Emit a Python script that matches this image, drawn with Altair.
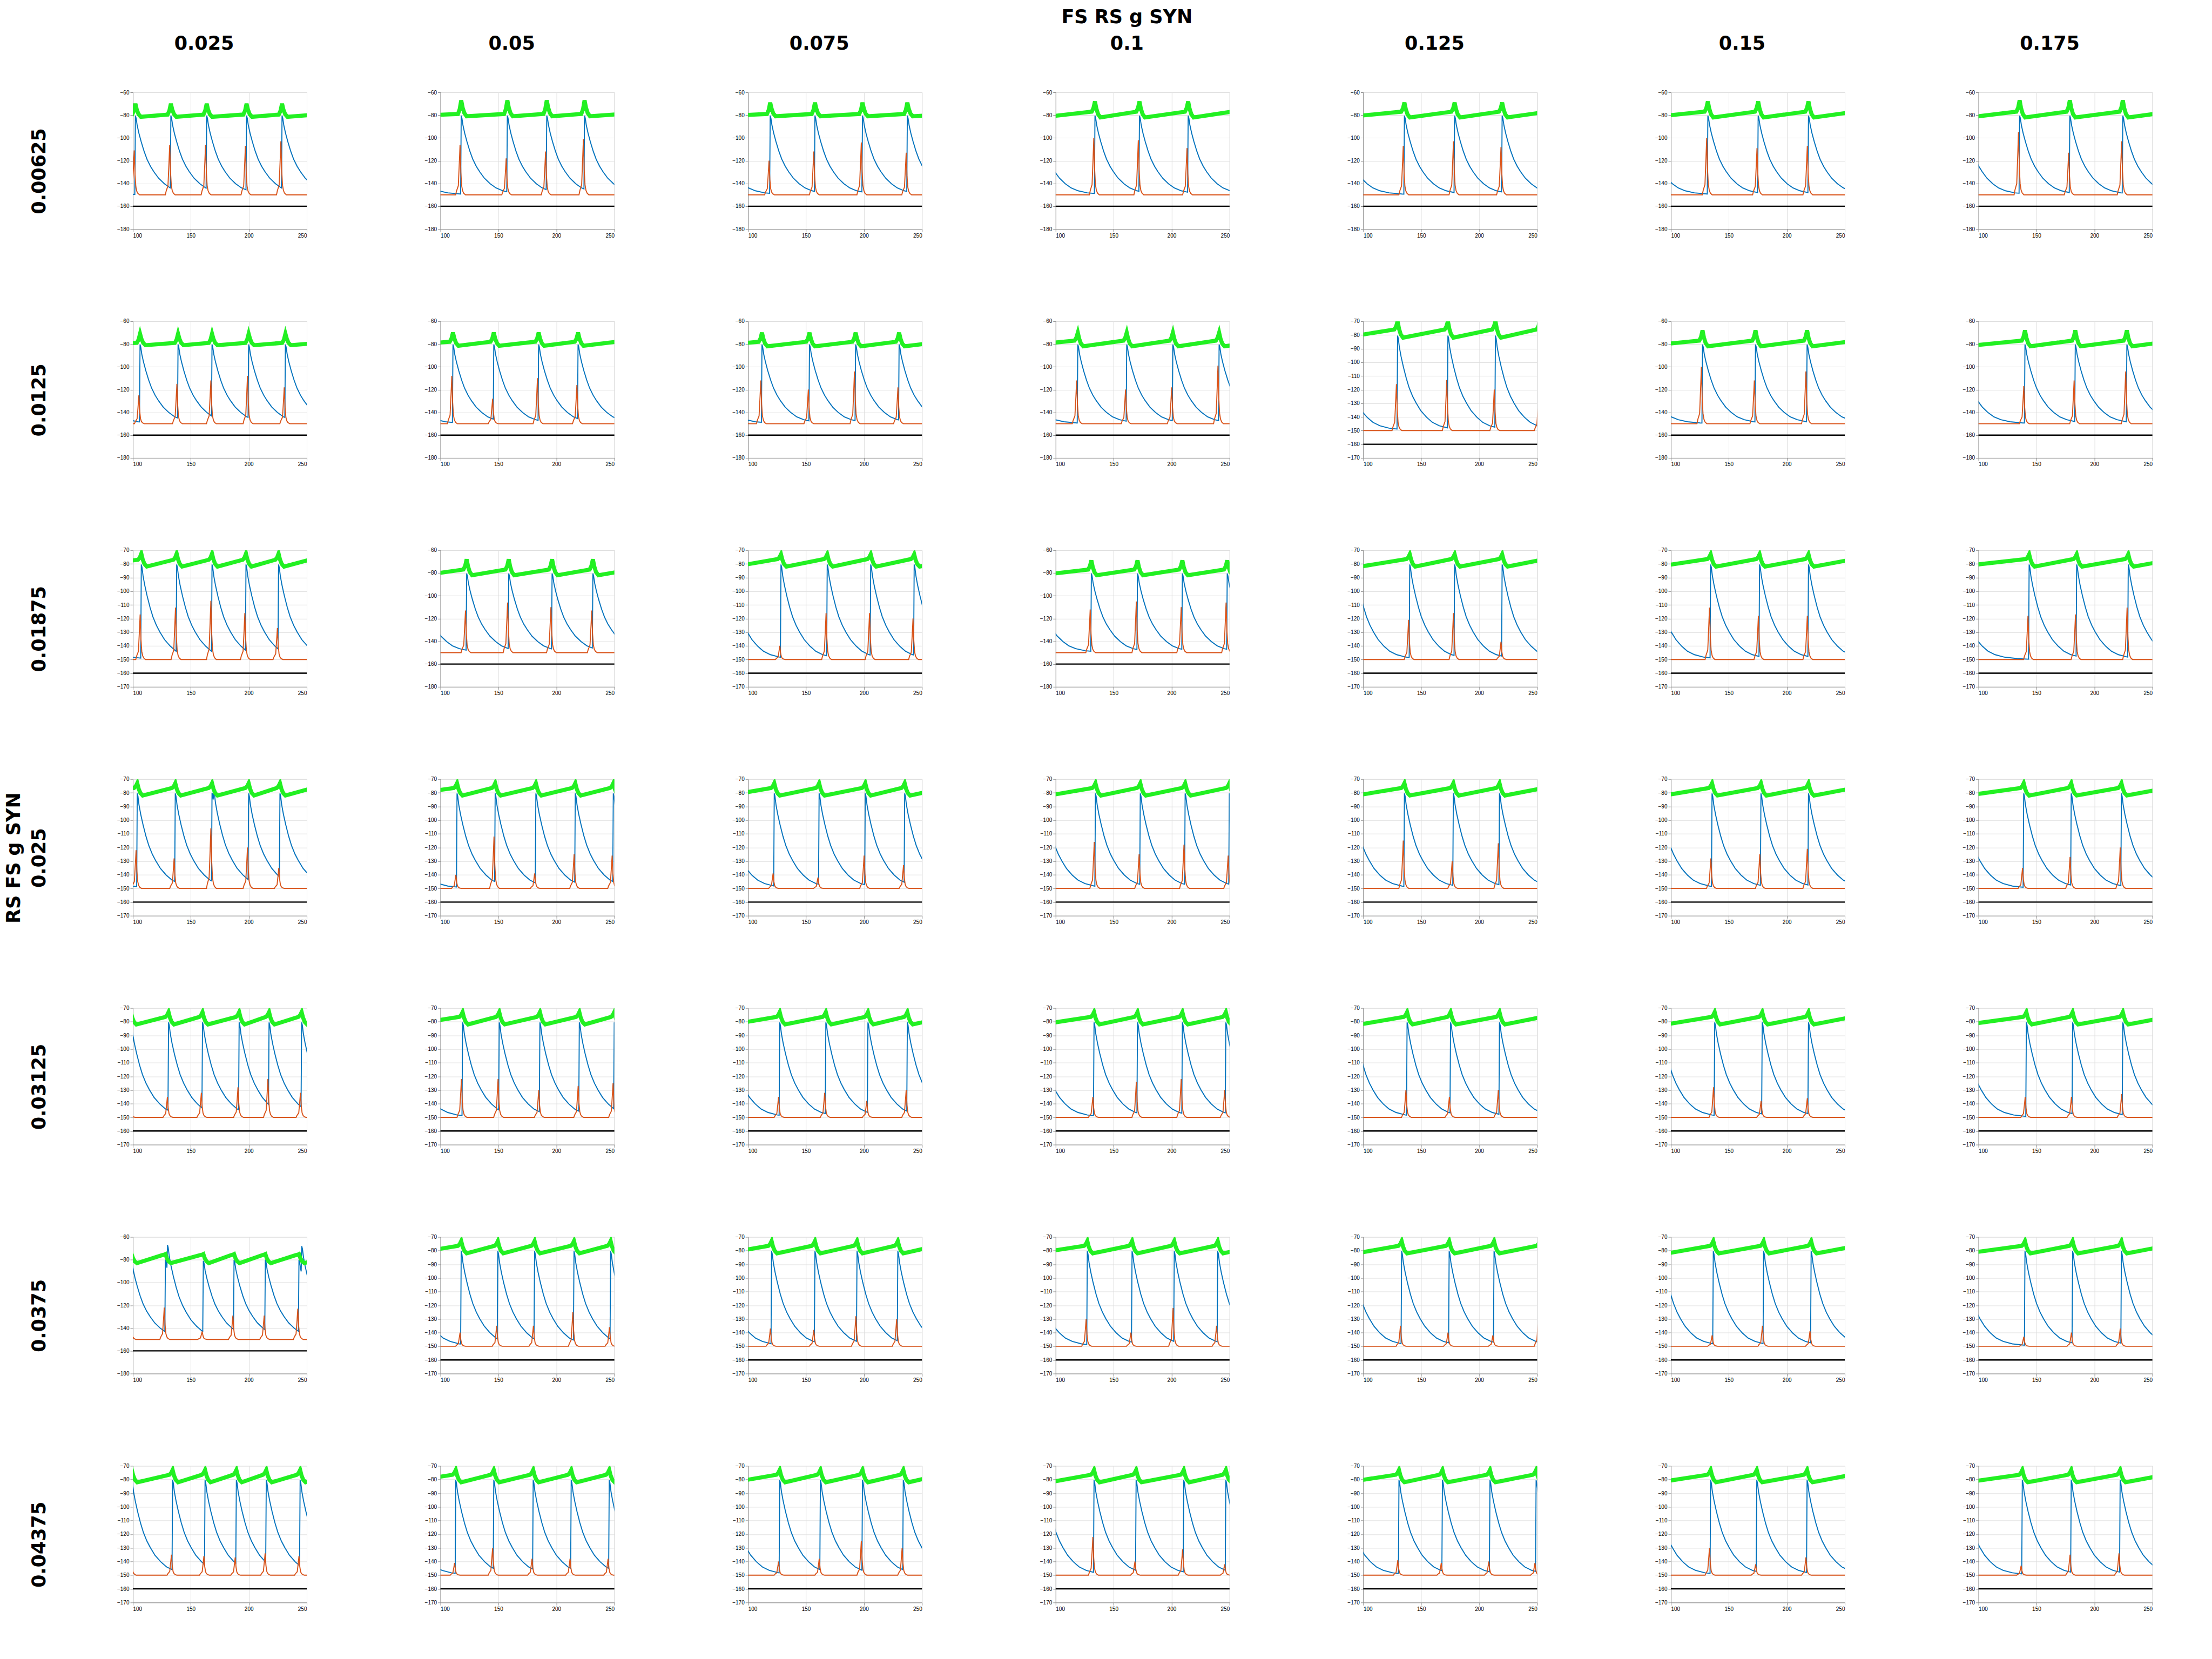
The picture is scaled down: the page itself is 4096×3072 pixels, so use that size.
import numpy as np
import pandas as pd
import altair as alt

COL_LABELS = ['0.025', '0.05', '0.075', '0.1', '0.125', '0.15', '0.175']
ROW_LABELS = ['0.00625', '0.0125', '0.01875', '0.025', '0.03125', '0.0375', '0.04375']
TOP_TITLE = 'FS RS g SYN'
SIDE_TITLE = 'RS FS g SYN'

# panels drawn on the -180..-60 axis (others use -170..-70)
WIDE_AXIS = [(0, 0), (0, 1), (0, 2), (0, 3), (0, 4), (0, 5), (0, 6),
             (1, 0), (1, 1), (1, 2), (1, 3), (1, 5), (1, 6),
             (2, 1), (2, 3), (5, 0)]

# RS (blue) spike times per panel [row][col]; first entry is the spike before t=100
BLUE_T = [
    [[40, 101.9, 132.5, 163.4, 197.8, 228.4], [62, 117.6, 157.4, 191.4, 224], [70, 118.8, 157.4, 198.4, 237.1],
     [83, 133.6, 172, 214], [78, 135.2, 178.5, 219.5], [76, 131.6, 175, 218.4], [87, 135.2, 178.5, 224.2]],
    [[60, 105.9, 138.7, 168, 199.6, 231.3], [60, 110.5, 145.7, 184.4, 218.4], [62, 111.7, 152.7, 192.5, 230],
     [63, 118.8, 161, 200.8, 240.7], [78, 129.3, 172.7, 213.7, 252], [70, 127, 172.7, 217.2], [83, 139.8, 183.2, 227.7]],
    [[55, 107, 137.5, 168, 197.3, 225.4], [80, 122.3, 158.6, 196, 231.2], [83, 128.1, 168, 205.5, 243],
     [81, 130.5, 170.3, 209, 247.7], [92.5, 139.8, 178.5, 219.5], [84, 134, 176.2, 218.4], [78, 143.4, 184.4, 228.9]],
    [[55, 103.5, 136.3, 168, 169.5, 199.6, 226.6], [62, 114, 146.9, 182, 216, 248.8], [78, 122.3, 161, 200.8, 234.8],
     [89, 134, 172.7, 211.4, 249.5], [89, 135.2, 177.4, 217.2], [89, 135.2, 177.4, 218.4], [85, 138.7, 179.7, 223]],
    [[98, 130.5, 159.8, 191.4, 217.2, 245.3], [70, 118.8, 150.4, 185.5, 219.5, 249.6], [81, 127, 166.8, 203.1, 237.1],
     [83, 132.8, 170.3, 209, 246.5], [92, 137.5, 175, 217.2], [91, 137.5, 178.5, 218.4], [86, 141, 180.9, 224.2]],
    [[98.6, 127.8, 129.6, 160.5, 187, 214, 243, 245.4], [72, 117.6, 149.2, 180.9, 214.9, 246.5], [76, 120, 157.4, 193.7, 228.9],
     [78, 127, 165.6, 202, 239.5], [89, 132.8, 173.8, 212.5, 252], [92, 136.3, 179.7, 220.7], [85, 139.8, 180.9, 223]],
    [[98.8, 134, 162, 189, 214.8, 244], [65, 112.9, 145.7, 179.7, 212.5, 245.3], [82, 127, 162.1, 198.4, 233.6],
     [90, 132.8, 169.1, 210.2, 246.5], [81, 130.5, 168, 209, 248.8], [85, 134, 173.8, 217.2], [85, 137.5, 179.7, 221.9]],
]

# RS peak values where they differ from the usual -80.5 (double spikes)
BLUE_PEAKS = {
    (3, 0): [-80.5, -80.5, -80.5, -80, -79, -80.5, -80.5],
    (5, 0): [-81, -80, -67, -81, -80, -80, -80, -68],
}

# FS (red) peak values, one per RS spike (-150 = no FS spike)
RED_P = [
    [[-120, -111, -106, -106, -107, -103], [-120, -106, -118, -112, -101], [-120, -120, -112, -104, -113],
     [-120, -100, -102, -109], [-120, -107, -103, -108], [-120, -100, -109, -107], [-120, -95, -113, -103]],
    [[-120, -125, -115, -112, -108, -118], [-120, -108, -128, -110, -116], [-120, -112, -120, -104, -118],
     [-120, -112, -120, -118, -99], [-120, -116, -113, -120, -125], [-120, -100, -112, -104], [-120, -117, -112, -104]],
    [[-120, -117, -112, -107, -116, -127], [-120, -113, -106, -110, -113], [-120, -140, -116, -116, -120],
     [-120, -112, -105, -110, -106], [-120, -121, -116, -137], [-120, -112, -118, -118], [-120, -118, -117, -112]],
    [[-120, -122, -128, -106, -150, -120, -135], [-120, -140, -112, -139, -125, -126], [-120, -139, -142, -126, -133],
     [-120, -116, -125, -118, -126], [-120, -115, -130, -117], [-120, -128, -125, -121], [-120, -135, -127, -120]],
    [[-140, -135, -132, -128, -122, -132], [-120, -122, -122, -130, -127, -125], [-120, -135, -132, -138, -130],
     [-120, -135, -124, -122, -130], [-120, -130, -135, -130], [-120, -128, -138, -136], [-120, -135, -135, -133]],
    [[-125, -122, -150, -143, -129, -129, -123, -150], [-120, -140, -135, -135, -125, -136], [-120, -137, -138, -128, -130],
     [-120, -130, -140, -122, -135], [-120, -135, -140, -142, -125], [-120, -142, -135, -139], [-120, -143, -140, -137]],
    [[-125, -135, -136, -137, -134, -136], [-120, -141, -130, -138, -138, -138], [-120, -140, -138, -125, -130],
     [-120, -122, -140, -131, -142], [-120, -139, -141, -140, -141], [-120, -130, -142, -137], [-120, -143, -135, -134]],
]

# green (population) trace: low after each bump, high before each bump, bump peak
GREEN = [
    [(-81.5, -79.5, -70), (-81, -79, -67), (-81, -79, -69), (-82, -77, -68), (-82, -77, -69), (-82, -77, -68), (-82, -77, -67)],
    [(-81, -79, -71), (-81.5, -78, -70), (-82, -78, -70), (-82, -77, -70), (-82, -76, -70), (-82, -77, -68), (-82, -77, -68)],
    [(-82, -77, -72.5), (-82, -77, -68), (-82, -76.5, -73), (-82, -77, -69), (-82, -76.5, -73), (-82, -76.5, -73), (-82, -76.5, -73)],
    [(-82, -76.5, -73), (-82, -76.5, -73), (-82, -76.5, -73), (-82, -76.5, -73), (-82, -76.5, -73), (-82, -76.5, -73), (-82, -76.5, -73)],
    [(-82, -76.5, -73), (-82, -76.5, -73), (-82, -76.5, -73), (-82, -76.5, -73), (-82, -76.5, -73), (-82, -76.5, -73), (-82, -76.5, -73)],
    [(-83, -76, -75), (-82, -76.5, -73), (-82, -76.5, -73), (-82, -76.5, -73), (-82, -76.5, -73), (-82, -76.5, -73), (-82, -76.5, -73)],
    [(-82, -76.5, -73), (-82, -76.5, -73), (-82, -76.5, -73), (-82, -76.5, -73), (-82, -76.5, -73), (-82, -76.5, -73), (-82, -76.5, -73)],
]

BLACK_LEVEL = -160
REST = -150

# waveform templates
BLUE_OFF = [0, 0.6, 1.5, 3, 5, 7.5, 10, 13, 16, 20, 25, 30, 36, 44, 55, 70]
BLUE_FR = [1, 0.97, 0.88, 0.78, 0.67, 0.55, 0.45, 0.36, 0.29, 0.21, 0.14, 0.087, 0.051, 0.025, 0.01, 0]
RED_OFF = [-4.5, -3.7, -2.2, -1.3, -0.7, 0, 0.7, 1.5, 2.5, 4]
RED_FR = [0, 0.08, 0.18, 0.65, 1, 0.45, 0.18, 0.08, 0.03, 0]
GREEN_OFF = [-2.5, -1.0, 0.3, 1.5, 3, 5]


def blue_val(t_prev, p_prev, t):
    return REST + (p_prev - REST) * float(np.interp(t - (t_prev + 0.3), BLUE_OFF, BLUE_FR, right=0.0))


records = []


def add(k, s, pts):
    pts = sorted(pts, key=lambda q: q[0])
    for i, (t, v) in enumerate(pts):
        records.append({'p': k, 's': s, 'i': i, 't': round(t, 3), 'v': round(v, 3)})


for r in range(7):
    for c in range(7):
        k = r * 7 + c
        ts = BLUE_T[r][c]
        pks = BLUE_PEAKS.get((r, c), [-80.5] * len(ts))
        reds = RED_P[r][c]
        lo, hi, gpk = GREEN[r][c]
        add(k, 'k', [(90, BLACK_LEVEL), (260, BLACK_LEVEL)])
        bp = []
        for i, (t0, p) in enumerate(zip(ts, pks)):
            sv = REST if i == 0 else blue_val(ts[i - 1], pks[i - 1], t0 - 0.2)
            bp.append((t0 - 0.2, sv))
            tp = t0 + 0.3
            tn = ts[i + 1] - 0.2 if i + 1 < len(ts) else 1e9
            for o, f in zip(BLUE_OFF, BLUE_FR):
                if tp + o < tn - 0.05:
                    bp.append((tp + o, REST + (p - REST) * f))
        add(k, 'b', bp)
        rp = [(ts[0] - 20, REST)]
        for t0, a in zip(ts, reds):
            if a >= REST + 0.5:
                for o, f in zip(RED_OFF, RED_FR):
                    rp.append((t0 + o, REST + (a - REST) * f))
        rp.append((ts[-1] + 60, REST))
        add(k, 'r', rp)
        main = [ts[0]]
        for t0 in ts[1:]:
            if t0 - main[-1] >= 5:
                main.append(t0)
        gvals = [hi, hi + 0.35 * (gpk - hi), gpk, lo + 0.55 * (gpk - lo), lo + 0.2 * (gpk - lo), lo]
        gp = []
        for t0 in main:
            for o, v in zip(GREEN_OFF, gvals):
                gp.append((t0 + o, v))
        interval = float(np.mean(np.diff(main[1:]))) if len(main) > 2 else 40.0
        gp.append((main[-1] + interval - 2.5, hi))
        add(k, 'g', gp)

df = pd.DataFrame(records)

W, H = 322, 253
SERIES = [('k', 'black', 2.4), ('b', '#0072BD', 1.9), ('r', '#D95319', 1.9), ('g', '#22F022', 7.5)]

charts = []
for r in range(7):
    for c in range(7):
        k = r * 7 + c
        wide = (r, c) in WIDE_AXIS
        dom = [-180, -60] if wide else [-170, -70]
        vals = list(range(-180, -59, 20)) if wide else list(range(-170, -69, 10))
        if c == 0:
            if r == 3:
                ttl, tx = [SIDE_TITLE, ROW_LABELS[r]], -202.3
            else:
                ttl, tx = ROW_LABELS[r], -155.3
            yaxis = alt.Axis(values=vals, title=ttl, titleX=tx, titleY=H / 2 + 19,
                             titleFontSize=35, titleFont='DejaVu Sans', titleFontWeight='bold',
                             titleColor='black', titleLineHeight=47)
        else:
            yaxis = alt.Axis(values=vals, title=None)
        xaxis = alt.Axis(values=[100, 150, 200, 250], title=None)
        x = alt.X('t:Q', scale=alt.Scale(domain=[100, 250], nice=False, zero=False), axis=xaxis)
        y = alt.Y('v:Q', scale=alt.Scale(domain=dom, nice=False, zero=False), axis=yaxis)
        layers = []
        for s, col, sw in SERIES:
            layers.append(
                alt.Chart().transform_filter(f"datum.p == {k} && datum.s == '{s}'")
                .mark_line(color=col, strokeWidth=sw, clip=True)
                .encode(x=x, y=y, order='i:Q')
            )
        ch = alt.layer(*layers).properties(width=W, height=H)
        if r == 0:
            txt = [TOP_TITLE, COL_LABELS[c]] if c == 3 else COL_LABELS[c]
            ch = ch.properties(title=alt.TitleParams(
                txt, fontSize=35, font='DejaVu Sans', fontWeight='bold', color='black',
                anchor='middle', frame='group', offset=67, dx=-29, lineHeight=49))
        charts.append(ch)

chart = alt.concat(
    *charts, columns=7, data=df, bounds='flush',
    spacing={'row': 423.9 - H, 'column': 569.6 - W},
).properties(
    padding={'left': 8, 'top': 14, 'right': 10, 'bottom': 10}
).configure_view(stroke=None).configure_axis(
    grid=False, ticks=False, domainColor='#8c8c8c', domainWidth=1.3,
    labelFontSize=7.5, labelColor='#333333', labelFont='Liberation Sans', labelPadding=3,
).configure(background='white')

chart.save("out.html", embed_options={"renderer": "svg", "actions": False})
